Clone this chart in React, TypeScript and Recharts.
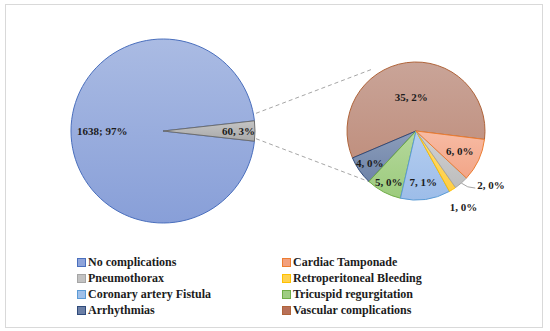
import { PieChart, Pie, Cell, Legend, Customized } from 'recharts'

// main pie
const MAIN_NAMES = ['No complications', 'Other']
const MAIN_VALUES = [1638, 60]
const MAIN_PCT = ['97%', '3%']
const MAIN_SEP = ['; ', ', ']

// breakdown of "Other" (counter-clockwise from the right edge)
const SUB_NAMES = [
  'Vascular complications', 'Arrhythmias', 'Tricuspid regurgitation',
  'Coronary artery Fistula', 'Retroperitoneal Bleeding', 'Pneumothorax', 'Cardiac Tamponade',
]
const SUB_VALUES = [35, 4, 5, 7, 1, 2, 6]
const SUB_PCT = ['2%', '0%', '0%', '1%', '0%', '0%', '0%']

const LEGEND_ORDER = [
  'No complications', 'Cardiac Tamponade', 'Pneumothorax', 'Retroperitoneal Bleeding',
  'Coronary artery Fistula', 'Tricuspid regurgitation', 'Arrhythmias', 'Vascular complications',
]

const COLORS: Record<string, { top: string; bottom: string; stroke: string; key: string }> = {
  'No complications': { top: '#aabbe3', bottom: '#889fd8', stroke: '#4a6fbd', key: '#8ea4da' },
  'Other': { top: '#c4c4c4', bottom: '#a9a9a9', stroke: '#6e6e6e', key: '#b5b5b5' },
  'Cardiac Tamponade': { top: '#f7bba4', bottom: '#f2a587', stroke: '#ed7d31', key: '#f2a07e' },
  'Pneumothorax': { top: '#d2d2d2', bottom: '#bdbdbd', stroke: '#a5a5a5', key: '#c2c2c2' },
  'Retroperitoneal Bleeding': { top: '#ffdd73', bottom: '#ffce45', stroke: '#ffc000', key: '#ffd24f' },
  'Coronary artery Fistula': { top: '#b4cdef', bottom: '#9dbde9', stroke: '#5b9bd5', key: '#9fc0ea' },
  'Tricuspid regurgitation': { top: '#b5d89c', bottom: '#9ccb7d', stroke: '#70ad47', key: '#9fcd83' },
  'Arrhythmias': { top: '#8c9dbb', bottom: '#6f84a8', stroke: '#2f4a7a', key: '#6b7fa6' },
  'Vascular complications': { top: '#c9a498', bottom: '#c0907f', stroke: '#b0643a', key: '#b87058' },
}

const W = 550
const H = 331
const C1 = { x: 158, y: 126, r: 92 }
const C2 = { x: 411, y: 126, r: 69 }
const FONT = '"Liberation Serif", "Times New Roman", serif'
const RAD = Math.PI / 180

const mainData = MAIN_NAMES.map((name, i) => ({ name, value: MAIN_VALUES[i], pct: MAIN_PCT[i], sep: MAIN_SEP[i] }))
const subData = SUB_NAMES.map((name, i) => ({ name, value: SUB_VALUES[i], pct: SUB_PCT[i] }))

const otherHalf = (180 * MAIN_VALUES[1]) / (MAIN_VALUES[0] + MAIN_VALUES[1])

const labelStyle = { fontFamily: FONT, fontSize: 11, fontWeight: 700, fill: '#1c1c1c' }

function mainLabel(p: any) {
  const f = p.index === 0 ? 0.66 : 0.82
  const x = p.cx + p.outerRadius * f * Math.cos(-p.midAngle * RAD)
  const y = p.cy + p.outerRadius * f * Math.sin(-p.midAngle * RAD)
  const d = mainData[p.index]
  return (
    <text x={x} y={y} textAnchor="middle" dominantBaseline="central" style={labelStyle}>
      {`${d.value}${d.sep}${d.pct}`}
    </text>
  )
}

const SUB_LABEL_R: Record<string, number> = {
  'Vascular complications': 0.5, 'Arrhythmias': 0.82, 'Tricuspid regurgitation': 0.84,
  'Coronary artery Fistula': 0.75, 'Retroperitoneal Bleeding': 1.3, 'Pneumothorax': 1.0, 'Cardiac Tamponade': 0.7,
}

function subLabel(p: any) {
  const d = subData[p.index]
  const f = SUB_LABEL_R[d.name]
  const cos = Math.cos(-p.midAngle * RAD)
  const sin = Math.sin(-p.midAngle * RAD)
  const x = p.cx + p.outerRadius * f * cos
  const y = p.cy + p.outerRadius * f * sin
  const text = `${d.value}, ${d.pct}`
  if (d.name === 'Pneumothorax') {
    const ex = x + 14
    const ey = y + 5
    return (
      <g>
        <path d={`M${x},${y} Q${x + 6},${ey} ${ex},${ey}`} stroke="#a6a6a6" strokeWidth={1} fill="none" />
        <text x={ex + 2} y={ey - 3} textAnchor="start" dominantBaseline="central" style={labelStyle}>{text}</text>
      </g>
    )
  }
  return (
    <text x={x} y={y} textAnchor="middle" dominantBaseline="central" style={labelStyle}>{text}</text>
  )
}

function Connectors() {
  const a = otherHalf * RAD
  const b = 125 * RAD
  const lines = [1, -1].map((s) => ({
    x1: C1.x + C1.r * Math.cos(a), y1: C1.y - s * C1.r * Math.sin(a),
    x2: C2.x + C2.r * Math.cos(b), y2: C2.y - s * C2.r * Math.sin(b),
  }))
  return (
    <g>
      {lines.map((l, i) => (
        <line key={i} {...l} stroke="#a6a6a6" strokeWidth={1} strokeDasharray="4 3" />
      ))}
    </g>
  )
}

function renderLegend() {
  return (
    <div style={{ display: 'grid', gridTemplateColumns: '205px 200px', paddingLeft: 77, fontFamily: FONT, fontSize: 12, fontWeight: 700, color: '#1c1c1c', lineHeight: '16px' }}>
      {LEGEND_ORDER.map((name) => (
        <div key={name} style={{ display: 'flex', alignItems: 'center', whiteSpace: 'nowrap' }}>
          <span style={{ width: 7, height: 7, background: COLORS[name].key, border: `1px solid ${COLORS[name].stroke}`, marginRight: 2, display: 'inline-block' }} />
          {name}
        </div>
      ))}
    </div>
  )
}

export default function App() {
  const all = [...MAIN_NAMES, ...SUB_NAMES]
  return (
    <div style={{ position: 'absolute', left: 0, top: 0, width: W, height: H, background: '#fff' }}>
      <div style={{ position: 'absolute', left: 5, top: 4, width: 536, height: 322, border: '1px solid #d9d9d9' }} />
      <PieChart width={W} height={H} style={{ position: 'absolute', left: 0, top: 0 }}>
        <defs>
          {all.map((name, i) => (
            <linearGradient key={i} id={`g${i}`} x1="0" y1="0" x2="0" y2="1">
              <stop offset="0%" stopColor={COLORS[name].top} />
              <stop offset="100%" stopColor={COLORS[name].bottom} />
            </linearGradient>
          ))}
        </defs>
        <Customized component={Connectors} />
        <Pie data={mainData} dataKey="value" cx={C1.x} cy={C1.y} outerRadius={C1.r}
          startAngle={otherHalf} endAngle={otherHalf + 360}
          label={mainLabel} labelLine={false} isAnimationActive={false}>
          {mainData.map((d, i) => (
            <Cell key={i} fill={`url(#g${i})`} stroke={COLORS[d.name].stroke} strokeWidth={1} />
          ))}
        </Pie>
        <Pie data={subData} dataKey="value" cx={C2.x} cy={C2.y} outerRadius={C2.r}
          startAngle={-7} endAngle={353}
          label={subLabel} labelLine={false} isAnimationActive={false}>
          {subData.map((d, i) => (
            <Cell key={i} fill={`url(#g${i + MAIN_NAMES.length})`} stroke={COLORS[d.name].stroke} strokeWidth={1} />
          ))}
        </Pie>
        <Legend content={renderLegend} wrapperStyle={{ left: 0, top: 254, width: W }} />
      </PieChart>
    </div>
  )
}
